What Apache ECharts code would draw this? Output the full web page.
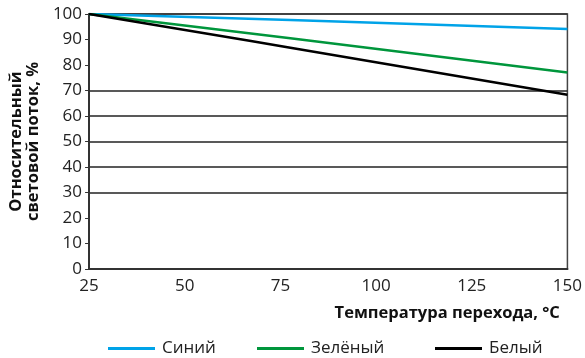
<!DOCTYPE html>
<html>
<head>
<meta charset="utf-8">
<script src="https://cdn.jsdelivr.net/npm/echarts@6/dist/echarts.min.js"></script>
<style>html,body{margin:0;padding:0;background:#fff}#c{width:585px;height:358px}</style>
</head>
<body>
<div id="c"></div>
<script>
const xTicks = [25, 50, 75, 100, 125, 150];
const seriesNames = ['Синий', 'Зелёный', 'Белый'];
const blueData = [[25, 100], [77.6, 97.6], [150, 94.1]];
const greenData = [[25, 100], [77.6, 90.5], [150, 77.1]];
const whiteData = [[25, 100], [67.3, 89.4], [77.6, 86.8], [150, 68.3]];
const xName = 'Температура перехода, °C';
const yName = 'Относительный\nсветовой поток, %';

const font = 'Open Sans';
const chart = echarts.init(document.getElementById('c'), null, {renderer: 'canvas'});
const splitColors = ['rgba(0,0,0,0)','rgba(0,0,0,0)','rgba(0,0,0,0)','#222','#222','#222','#222','#222','rgba(0,0,0,0)','rgba(0,0,0,0)','#333'];
const legendLefts = [108, 257, 435];
const legendBase = {
  top: 340, padding: 0, itemWidth: 47, itemHeight: 3, icon: 'rect',
  textStyle: {fontFamily: font, fontSize: 17, color: '#222', padding: [0, 0, 0, 2]}
};
chart.setOption({
  animation: false,
  grid: {left: 87, right: 16, top: 14, bottom: 89, show: true, borderColor: '#444', borderWidth: 1.5, backgroundColor: 'transparent'},
  legend: seriesNames.map((n, i) => Object.assign({}, legendBase, {left: legendLefts[i], data: [n]})),
  xAxis: {
    type: 'value', min: 25, max: 150, interval: 25,
    name: xName, nameLocation: 'middle', nameGap: 36,
    nameTextStyle: {fontFamily: font, fontWeight: 'bold', fontSize: 16.5, color: '#111', padding: [0, 0, 0, 238]},
    axisLine: {show: true, lineStyle: {color: '#333', width: 2}},
    axisTick: {show: false},
    axisLabel: {fontFamily: font, fontSize: 17, color: '#222', margin: 9,
      formatter: v => xTicks.includes(v) ? String(v) : ''},
    splitLine: {show: false}
  },
  yAxis: {
    type: 'value', min: 0, max: 100, interval: 10,
    name: yName, nameLocation: 'middle', nameGap: 44,
    nameTextStyle: {fontFamily: font, fontWeight: 'bold', fontSize: 16.5, color: '#111', lineHeight: 17},
    axisLine: {show: true, lineStyle: {color: '#333', width: 2}},
    axisTick: {show: true, length: 4, inside: false, lineStyle: {color: '#333'}},
    axisLabel: {fontFamily: font, fontSize: 17, color: '#222', margin: 7},
    splitLine: {show: true, lineStyle: {color: splitColors, width: 1.5}}
  },
  series: [
    {name: seriesNames[0], type: 'line', data: blueData, symbol: 'none', lineStyle: {color: '#00a3e8', width: 2.5}, itemStyle: {color: '#00a3e8'}, z: 3},
    {name: seriesNames[1], type: 'line', data: greenData, symbol: 'none', lineStyle: {color: '#00963c', width: 2.5}, itemStyle: {color: '#00963c'}, z: 4},
    {name: seriesNames[2], type: 'line', data: whiteData, symbol: 'none', lineStyle: {color: '#000', width: 2.5}, itemStyle: {color: '#000'}, z: 5}
  ]
});
</script>
</body>
</html>
